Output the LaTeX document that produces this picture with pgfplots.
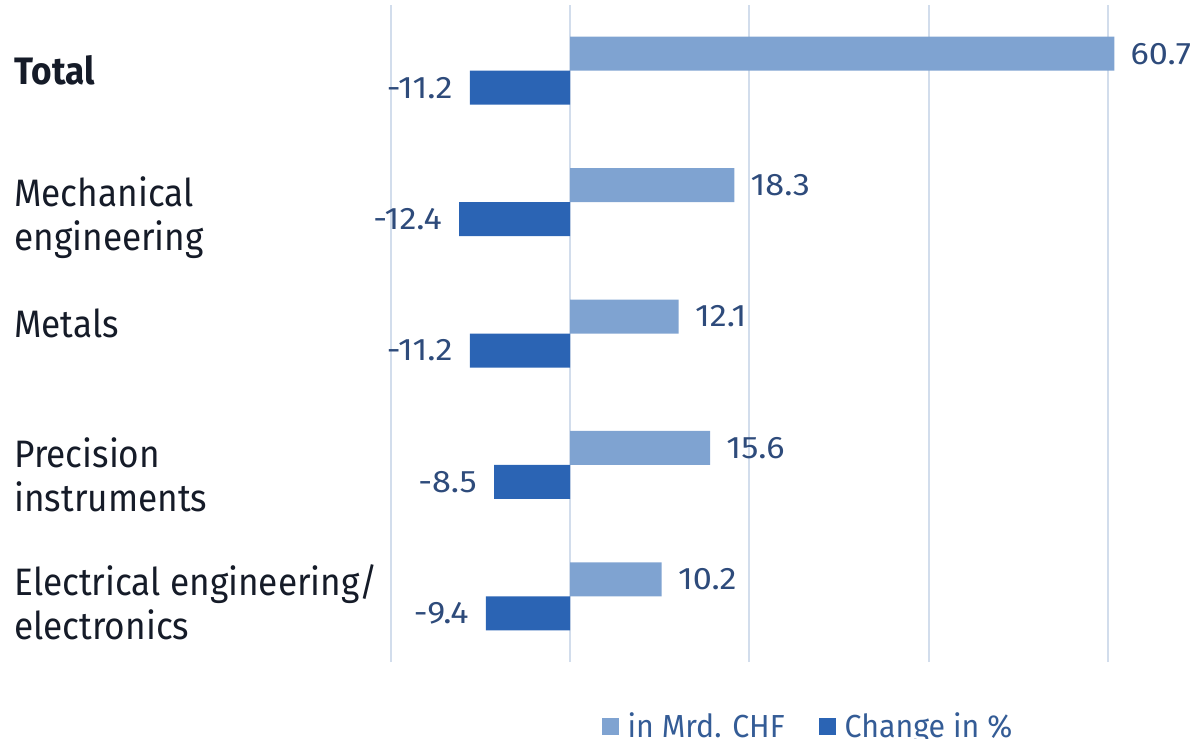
\documentclass[border=0pt]{standalone}
\usepackage{fontspec}
\setmainfont{Fira Sans}
\newfontfamily\catfont{Fira Sans}[FakeStretch=0.92]
\newfontfamily\legfont{Fira Sans}[FakeStretch=0.95]
\newfontfamily\valfont{Fira Sans}[FakeStretch=1.1]
\usepackage{pgfplots}
\usepackage{pgfplotstable}
\pgfplotsset{compat=1.18}
\definecolor{lightbar}{HTML}{7FA3D1}
\definecolor{darkbar}{HTML}{2B64B4}
\definecolor{valtext}{HTML}{2E4B7B}
\definecolor{cattext}{HTML}{151B28}
\definecolor{gridc}{HTML}{D2DDEC}
\definecolor{legtext}{HTML}{345C96}

\pgfplotstableread{
y val lab
4 60.7 60.7
3 18.3 18.3
2 12.1 12.1
1 15.6 15.6
0 10.2 10.2
}\chf
\pgfplotstableread{
y val lab
4 -11.2 -11.2
3 -12.4 -12.4
2 -11.2 -11.2
1 -8.5 -8.5
0 -9.4 -9.4
}\chg

\begin{document}
\begin{tikzpicture}
\begin{axis}[
 at={(0,0)}, anchor=south west,
 width=358.5bp, height=328.5bp, scale only axis,
 xmin=-20, xmax=60, ymin=-0.5, ymax=4.5,
 xtick={-20,0,20,40,60}, xticklabels={,,,,},
 xmajorgrids, grid style={gridc, line width=1bp},
 axis line style={draw=none},
 major tick length=0pt,
 ytick={0.246,1.212,2.194,3.199,4.118},
 yticklabels={{Electrical engineering/\\electronics},{Precision\\instruments},{Metals},{Mechanical\\engineering},{\textbf{Total}}},
 yticklabel style={anchor=north west, xshift=-188.5bp, align=left, inner sep=0pt, font={\fontsize{19.2}{22}\catfont}, text=cattext},
 xbar, bar width=17bp,
 clip=false,
 legend style={at={(axis description cs:0.583,-0.0985)}, anchor=center, draw=none, fill=none, legend columns=2, font={\fontsize{16}{16}\legfont}, text=legtext, /tikz/every even column/.append style={column sep=15bp}},
 legend image code/.code={\fill[#1] (0bp,-4.25bp) rectangle (8.5bp,4.25bp); \path (11bp,0bp);},
]
\addplot[fill=lightbar, draw=none, bar shift=8.5bp, nodes near coords, point meta=explicit symbolic,
  every node near coord/.style={anchor=west, inner sep=0pt, xshift=8bp, yshift=8.5bp, font={\fontsize{15.6}{16}\valfont}, text=valtext}]
  table[x=val, y=y, meta=lab] {\chf};
\addlegendentry{in Mrd. CHF}
\addplot[fill=darkbar, draw=none, bar shift=-8.5bp, nodes near coords, point meta=explicit symbolic,
  every node near coord/.style={anchor=east, inner sep=0pt, xshift=-8.5bp, yshift=-8.5bp, font={\fontsize{15.6}{16}\valfont}, text=valtext}]
  table[x=val, y=y, meta=lab] {\chg};
\addlegendentry{Change in \%}
\end{axis}
\pgfresetboundingbox
\path[use as bounding box] (-195.5bp,-38.5bp) rectangle (402.5bp,331bp);
\end{tikzpicture}
\end{document}
